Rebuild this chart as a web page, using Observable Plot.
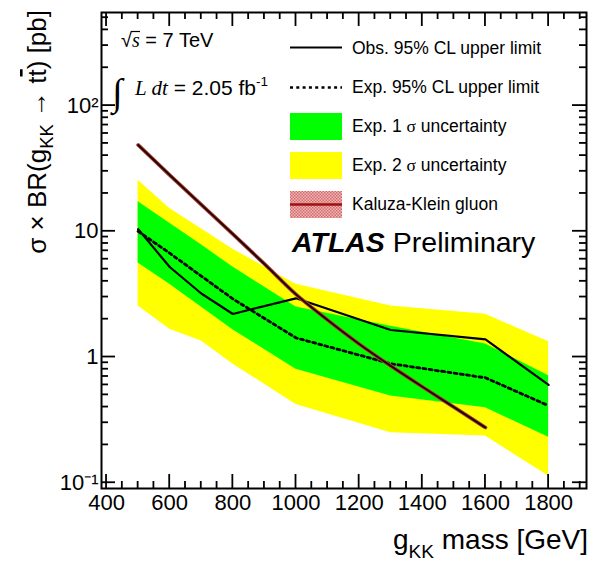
<!DOCTYPE html>
<html>
<head>
<meta charset="utf-8">
<script src="https://cdn.jsdelivr.net/npm/d3@7"></script>
<script src="https://cdn.jsdelivr.net/npm/@observablehq/plot@0.6"></script>
<style>
  body { margin: 0; background: #fff; }
  #chart { width: 594px; height: 568px; }
</style>
</head>
<body>
<div id="chart"></div>
<script>
// Limit scan points (g_KK mass, GeV) and cross-section limits (pb)
const mass = [500, 600, 700, 800, 1000, 1300, 1600, 1800];
const observed = [10.4, 5.2, 3.2, 2.2, 2.93, 1.64, 1.38, 0.60];
const expected = [10.0, 6.7, 4.4, 2.9, 1.42, 0.885, 0.684, 0.41];
const sigma1Up = [17.2, 11.6, 7.8, 5.2, 2.5, 1.76, 1.27, 0.71];
const sigma1Down = [5.6, 3.8, 2.5, 1.65, 0.80, 0.49, 0.395, 0.23];
const sigma2Up = [25.5, 15.2, 10.5, 7.2, 3.8, 2.55, 2.19, 1.32];
const sigma2Down = [2.55, 1.66, 1.34, 0.88, 0.42, 0.25, 0.235, 0.113];

// Kaluza-Klein gluon prediction
const kkMass = [500, 600, 700, 800, 900, 1000, 1100, 1200, 1300, 1400, 1500, 1600];
const kkXsec = [48.6, 28.0, 16.3, 9.5, 5.5, 3.15, 1.97, 1.27, 0.85, 0.58, 0.40, 0.275];

// Axis ticks and labels
const xTickLabels = [400, 600, 800, 1000, 1200, 1400, 1600, 1800];
const yTickValues = [0.1, 1, 10, 100];
const yTickText = ["10\u207B\u00B9", "1", "10", "10\u00B2"];

const W = 594, H = 568;
const mL = 101, mR = 8, mT = 12, mB = 80;
const majorLen = 14, minorLen = 7;

const rows = mass.map((m, i) => ({
  m, obs: observed[i], exp: expected[i],
  u1: sigma1Up[i], d1: sigma1Down[i], u2: sigma2Up[i], d2: sigma2Down[i]
}));
const kk = kkMass.map((m, i) => ({m, v: kkXsec[i]}));

const xMinor = d3.range(450, 1920, 50).filter(v => !xTickLabels.includes(v));
const yMinor = yTickValues.flatMap(d => d3.range(2, 10).map(k => k * d)).filter(v => v <= 550);

const chart = Plot.plot({
  width: W, height: H,
  marginLeft: mL, marginRight: mR, marginTop: mT, marginBottom: mB,
  style: {fontFamily: "'Liberation Sans', Arial, Helvetica, sans-serif", fontSize: "22px", color: "#000", background: "#fff", overflow: "visible"},
  x: {domain: [384, 1920]},
  y: {type: "log", domain: [0.09, 550]},
  marks: [
    Plot.areaY(rows, {x: "m", y1: "d2", y2: "u2", fill: "#ffff00"}),
    Plot.areaY(rows, {x: "m", y1: "d1", y2: "u1", fill: "#00ff00"}),
    Plot.lineY(rows, {x: "m", y: "exp", stroke: "#000", strokeWidth: 2.8, strokeDasharray: "3,3.3"}),
    Plot.lineY(rows, {x: "m", y: "obs", stroke: "#000", strokeWidth: 2.2}),
    Plot.lineY(kk, {x: "m", y: "v", stroke: "#a84a3e", strokeWidth: 3.8, curve: "monotone-x"}),
    Plot.lineY(kk, {x: "m", y: "v", stroke: "#2a0000", strokeWidth: 2, curve: "monotone-x"}),
    Plot.frame({stroke: "#000", strokeWidth: 2}),
    Plot.axisX({ticks: xTickLabels, tickSize: 0, tickPadding: 6, label: null, tickFormat: d => String(d)}),
    Plot.axisY({ticks: yTickValues, tickSize: 0, tickPadding: 3, label: null,
      tickFormat: d => yTickText[yTickValues.indexOf(d)]})
  ]
});

document.getElementById("chart").appendChild(chart);

const svg = d3.select(chart);
const sx = chart.scale("x"), sy = chart.scale("y");
const frameLeft = mL, frameRight = W - mR, frameTop = mT, frameBottom = H - mB;

// inward ticks on all four sides, placed with the plot's own scales
const tickGroup = svg.append("g").attr("stroke", "#000").attr("stroke-width", 1.8);
function xTick(v, len) {
  const x = sx.apply(v);
  tickGroup.append("line").attr("x1", x).attr("x2", x).attr("y1", frameBottom).attr("y2", frameBottom - len);
  tickGroup.append("line").attr("x1", x).attr("x2", x).attr("y1", frameTop).attr("y2", frameTop + len);
}
function yTick(v, len) {
  const y = sy.apply(v);
  tickGroup.append("line").attr("y1", y).attr("y2", y).attr("x1", frameLeft).attr("x2", frameLeft + len);
  tickGroup.append("line").attr("y1", y).attr("y2", y).attr("x1", frameRight).attr("x2", frameRight - len);
}
xTickLabels.forEach(v => xTick(v, majorLen));
xMinor.forEach(v => xTick(v, minorLen));
yTickValues.forEach(v => yTick(v, majorLen));
yMinor.forEach(v => yTick(v, minorLen));

// titles, annotations and legend
const sans = "'Liberation Sans', Arial, Helvetica, sans-serif";
const serif = "'Liberation Serif', 'Times New Roman', serif";
const g = svg.append("g").attr("font-family", sans).attr("fill", "#000").attr("text-anchor", "start");

// y title
const yt = g.append("text")
  .attr("transform", "translate(46,10) rotate(-90)")
  .attr("text-anchor", "end").attr("font-size", 26);
yt.append("tspan").text("\u03C3 \u00D7 BR(g");
yt.append("tspan").attr("font-size", 18.5).attr("dy", 7).text("KK");
yt.append("tspan").attr("dy", -7).text(" \u2192 t");
yt.append("tspan").attr("text-decoration", "overline").text("t");
yt.append("tspan").text(") [pb]");

// x title
const xt = g.append("text").attr("x", 588).attr("y", 549)
  .attr("text-anchor", "end").attr("font-size", 28);
xt.append("tspan").text("g");
xt.append("tspan").attr("font-size", 19).attr("dy", 9).text("KK");
xt.append("tspan").attr("dy", -9).text(" mass [GeV]");

// centre-of-mass energy and integrated luminosity
const en = g.append("text").attr("x", 121).attr("y", 47).attr("font-size", 20);
en.append("tspan").text("\u221A");
en.append("tspan").attr("font-family", serif).attr("font-style", "italic").text("s");
en.append("tspan").text(" = 7 TeV");
g.append("line").attr("x1", 131).attr("x2", 140).attr("y1", 31.5).attr("y2", 31.5)
  .attr("stroke", "#000").attr("stroke-width", 1.2);

g.append("text").attr("x", 112).attr("y", 105).attr("font-size", 38)
  .attr("font-family", serif).text("\u222B");
const lum = g.append("text").attr("x", 135).attr("y", 95).attr("font-size", 21);
lum.append("tspan").attr("font-family", serif).attr("font-style", "italic").text("L dt");
lum.append("tspan").text(" = 2.05 fb");
lum.append("tspan").attr("font-size", 13.5).attr("dy", -9).text("-1");

// legend
const lx = 290, lw = 52, tx = 352;
const leg = g.append("g").attr("font-size", 17.5);
leg.append("line").attr("x1", lx).attr("x2", lx + lw).attr("y1", 47.5).attr("y2", 47.5)
  .attr("stroke", "#000").attr("stroke-width", 2);
leg.append("text").attr("x", tx).attr("y", 53.5).text("Obs. 95% CL upper limit");
leg.append("line").attr("x1", lx).attr("x2", lx + lw).attr("y1", 87.5).attr("y2", 87.5)
  .attr("stroke", "#000").attr("stroke-width", 2.4).attr("stroke-dasharray", "3,3.3");
leg.append("text").attr("x", tx).attr("y", 92.5).text("Exp. 95% CL upper limit");
leg.append("rect").attr("x", lx).attr("y", 113).attr("width", lw).attr("height", 27).attr("fill", "#00ff00");
const t1 = leg.append("text").attr("x", tx).attr("y", 131.5);
t1.append("tspan").text("Exp. 1 ");
t1.append("tspan").attr("font-family", serif).text("\u03C3");
t1.append("tspan").text(" uncertainty");
leg.append("rect").attr("x", lx).attr("y", 152).attr("width", lw).attr("height", 27).attr("fill", "#ffff00");
const t2 = leg.append("text").attr("x", tx).attr("y", 170.5);
t2.append("tspan").text("Exp. 2 ");
t2.append("tspan").attr("font-family", serif).text("\u03C3");
t2.append("tspan").text(" uncertainty");

const defs = svg.append("defs");
const pat = defs.append("pattern").attr("id", "kkhatch").attr("width", 3).attr("height", 3)
  .attr("patternUnits", "userSpaceOnUse");
pat.append("rect").attr("width", 3).attr("height", 3).attr("fill", "#f0b8b8");
pat.append("rect").attr("width", 1.5).attr("height", 1.5).attr("fill", "#d26a6a");
pat.append("rect").attr("x", 1.5).attr("y", 1.5).attr("width", 1.5).attr("height", 1.5).attr("fill", "#d26a6a");
leg.append("rect").attr("x", lx).attr("y", 191).attr("width", lw).attr("height", 27).attr("fill", "url(#kkhatch)");
leg.append("line").attr("x1", lx).attr("x2", lx + lw).attr("y1", 204.5).attr("y2", 204.5)
  .attr("stroke", "#a01010").attr("stroke-width", 2.5);
leg.append("text").attr("x", tx).attr("y", 209.5).text("Kaluza-Klein gluon");

const atl = g.append("text").attr("x", 292).attr("y", 252).attr("font-size", 28.5);
atl.append("tspan").attr("font-weight", "bold").attr("font-style", "italic").text("ATLAS");
atl.append("tspan").text(" Preliminary");
</script>
</body>
</html>
